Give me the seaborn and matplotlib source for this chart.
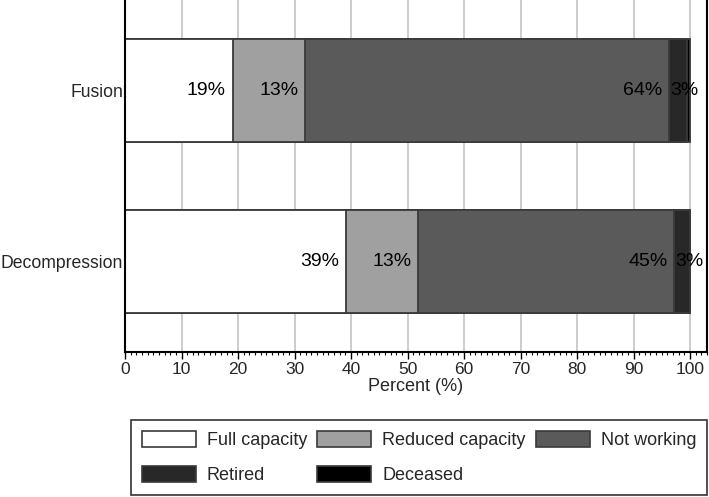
import numpy as np
import pandas as pd
import seaborn as sns
import matplotlib.pyplot as plt
from matplotlib.ticker import MultipleLocator
from matplotlib.patches import Patch

# data
groups = ['Fusion', 'Decompression']
categories = ['Full capacity', 'Reduced capacity', 'Not working', 'Retired', 'Deceased']
fusion = [19.1, 12.8, 64.4, 3.1, 0.6]
decompression = [39.1, 12.8, 45.3, 2.8, 0.0]
colors = ['#ffffff', '#a0a0a0', '#5a5a5a', '#282828', '#000000']

sns.set_theme(style='whitegrid')
plt.rcParams['font.family'] = ['Liberation Sans', 'DejaVu Sans']

df = pd.DataFrame([fusion, decompression], columns=categories)
df.insert(0, 'group', groups)
cum = df[categories].cumsum(axis=1)
cum['group'] = groups

fig = plt.figure(figsize=(7.09, 4.97), dpi=100)
ax = fig.add_axes([125 / 709, 1 - 352 / 497, (707 - 125) / 709, 352 / 497])

# stacked bars: draw cumulative totals from the largest down
for cat, col in reversed(list(zip(categories, colors))):
    sns.barplot(data=cum, x=cat, y='group', order=groups, color=col,
                width=0.6, edgecolor='#3a3a3a', linewidth=1.3,
                saturation=1, ax=ax, zorder=2)

# percent labels
for i, g in enumerate(groups):
    vals = df.loc[i, categories].values
    ends = np.cumsum(vals)
    for v, e in zip(vals, ends):
        if v < 1:
            continue
        lab = f'{round(v):.0f}%'
        if v >= 5:
            ax.annotate(lab, (e, i), xytext=(-5, 0), textcoords='offset points',
                        ha='right', va='center', fontsize=14, color='black', zorder=5)
        else:
            ax.annotate(lab, (e - v, i), xytext=(0.5, 0), textcoords='offset points',
                        ha='left', va='center', fontsize=14, color='black', zorder=5)

ax.set_xlim(0, 103)
ax.set_ylim(1.53, -0.53)
ax.xaxis.set_major_locator(MultipleLocator(10))
ax.xaxis.set_minor_locator(MultipleLocator(1))
ax.set_axisbelow(True)
ax.grid(axis='x', color='#c4c4c4', linewidth=1.2)
ax.grid(axis='y', visible=False)
ax.tick_params(axis='x', which='major', direction='out', length=5, width=1,
               color='black', labelsize=12.5, pad=2, bottom=True)
ax.tick_params(axis='x', which='minor', direction='out', length=2.5, width=0.8,
               color='black', bottom=True)
ax.tick_params(axis='y', length=0, labelsize=12.7, pad=1.5)
ax.set_xlabel('Percent (%)', fontsize=13, labelpad=1)
ax.set_ylabel('')
for s in ['left', 'bottom', 'right']:
    ax.spines[s].set_color('black')
    ax.spines[s].set_linewidth(1.5)
ax.spines['top'].set_visible(False)

# legend filled row-wise
handles = [Patch(facecolor=c, edgecolor='#3a3a3a', linewidth=1.2, label=l)
           for l, c in zip(categories, colors)]
order = [0, 3, 1, 4, 2]
leg = fig.legend([handles[k] for k in order], [categories[k] for k in order],
                 ncol=3, loc='lower left', mode='expand',
                 bbox_to_anchor=(131 / 709, 2 / 497, (707 - 131) / 709, (495 - 417) / 497),
                 bbox_transform=fig.transFigure, fontsize=13, frameon=True,
                 fancybox=False, edgecolor='black', handlelength=3.0, handleheight=0.95,
                 handletextpad=0.6, labelspacing=0.95, borderpad=0.6, columnspacing=0.5,
                 borderaxespad=0)
leg.get_frame().set_linewidth(1.2)

fig.savefig('out.png', dpi=100)
